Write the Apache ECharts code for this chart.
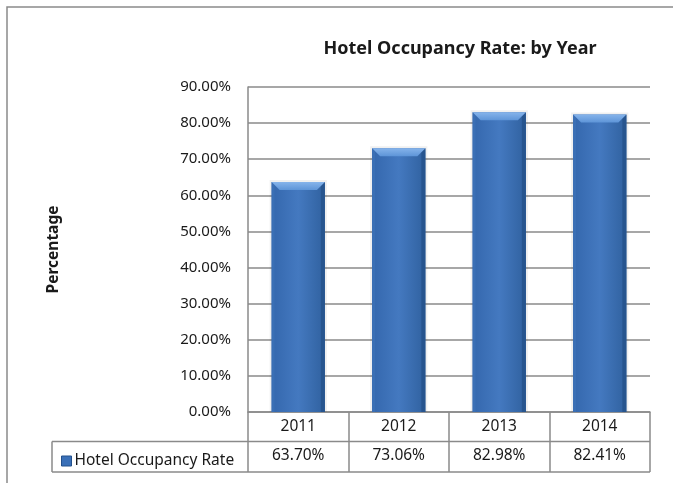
<!DOCTYPE html>
<html>
<head>
<meta charset="utf-8">
<script src="https://cdn.jsdelivr.net/npm/echarts@6/dist/echarts.min.js"></script>
<style>
html,body{margin:0;padding:0;background:#fff;}
#c{width:673px;height:483px;}
</style>
</head>
<body>
<div id="c"></div>
<script>
const titleText = 'Hotel Occupancy Rate: by Year';
const categories = ['2011', '2012', '2013', '2014'];
const seriesName = 'Hotel Occupancy Rate';
const values = [63.70, 73.06, 82.98, 82.41];
const yTicks = [0, 10, 20, 30, 40, 50, 60, 70, 80, 90];
const yAxisName = 'Percentage';

const FONT = '"Noto Sans", "Open Sans", sans-serif';
const GRID = {left: 248, right: 23, top: 87, bottom: 71};
const GRAY = '#8a8a8a';

const chart = echarts.init(document.getElementById('c'), null, {renderer: 'canvas'});

function bodyGrad() {
  return new echarts.graphic.LinearGradient(0, 0, 1, 0, [
    {offset: 0, color: '#3467ad'},
    {offset: 0.5, color: '#4479c0'},
    {offset: 1, color: '#30619f'}
  ]);
}

const option = {
  backgroundColor: '#fff',
  textStyle: {fontFamily: FONT},
  title: {
    text: titleText,
    left: 455, top: 35, textAlign: 'center',
    textStyle: {fontFamily: FONT, fontSize: 18, fontWeight: 'bold', color: '#1a1a1a'}
  },
  legend: {
    show: true,
    left: 56, top: 448,
    itemWidth: 10, itemHeight: 10, itemGap: 4,
    icon: 'rect',
    data: [{name: seriesName, itemStyle: {color: '#3a70b8', borderColor: '#23508c', borderWidth: 1}}],
    textStyle: {fontFamily: FONT, fontSize: 15.5, color: '#1a1a1a', padding: [0, 0, 0, -2]},
    selectedMode: false
  },
  grid: GRID,
  xAxis: [{
    type: 'category',
    data: categories,
    boundaryGap: true,
    axisLine: {show: true, lineStyle: {color: GRAY, width: 1.5}},
    axisTick: {show: true, length: 60, alignWithLabel: false, lineStyle: {color: GRAY, width: 1.5}},
    axisLabel: {margin: 7, fontSize: 15.5, color: '#1a1a1a', fontFamily: FONT},
    splitLine: {show: false}
  }, {
    type: 'category',
    data: categories,
    position: 'bottom',
    boundaryGap: true,
    axisLine: {show: false},
    axisTick: {show: false},
    axisLabel: {
      margin: 36, fontSize: 15.5, color: '#1a1a1a', fontFamily: FONT,
      formatter: function (v, i) { return values[i].toFixed(2) + '%'; }
    }
  }],
  yAxis: {
    type: 'value',
    min: yTicks[0], max: yTicks[yTicks.length - 1], interval: yTicks[1] - yTicks[0],
    name: yAxisName,
    nameLocation: 'middle', nameRotate: 90, nameGap: 186,
    nameTextStyle: {fontFamily: FONT, fontSize: 15.5, fontWeight: 'bold', color: '#1a1a1a'},
    axisLine: {show: true, lineStyle: {color: GRAY, width: 1.5}},
    axisTick: {show: false},
    axisLabel: {margin: 17, fontSize: 15, color: '#1a1a1a', fontFamily: FONT,
      formatter: function (v) { return v.toFixed(2) + '%'; }},
    splitLine: {show: true, lineStyle: {color: GRAY, width: 1.5}}
  },
  series: [{
    type: 'custom',
    name: seriesName,
    xAxisIndex: 0,
    itemStyle: {color: '#3a70b8'},
    data: values.map((v, i) => [i, v]),
    renderItem: function (params, api) {
      const top = api.coord([api.value(0), api.value(1)]);
      const base = api.coord([api.value(0), 0]);
      const bw = api.size([1, 0])[0] * 0.53;
      const l = top[0] - bw / 2, r = top[0] + bw / 2, t = top[1], b = base[1];
      const bev = 8;
      return {
        type: 'group',
        children: [
          {type: 'rect', shape: {x: l - 2, y: t - 2, width: bw + 4, height: b - t + 2},
           style: {fill: 'rgba(0,0,0,0.06)'}},
          {type: 'rect', shape: {x: l, y: t, width: bw, height: b - t},
           style: {fill: bodyGrad()}},
          {type: 'polygon', shape: {points: [[l, t], [l + 3, t + 3], [l + 3, b], [l, b]]},
           style: {fill: '#3a6fb5'}},
          {type: 'polygon', shape: {points: [[r, t], [r - 4, t + 4], [r - 4, b], [r, b]]},
           style: {fill: '#27558f'}},
          {type: 'polygon', shape: {points: [[l, t], [r, t], [r - bev, t + bev], [l + bev, t + bev]]},
           style: {fill: new echarts.graphic.LinearGradient(0, 0, 0, 1, [
             {offset: 0, color: '#86b4eb'}, {offset: 1, color: '#5e95d8'}])}}
        ]
      };
    }
  }],
  graphic: [
    {type: 'rect', shape: {x: 7, y: 7, width: 700, height: 520},
     style: {fill: 'none', stroke: GRAY, lineWidth: 1.5}, silent: true},
    {type: 'line', shape: {x1: 52, y1: 441.5, x2: 650, y2: 441.5},
     style: {stroke: GRAY, lineWidth: 1.5}},
    {type: 'line', shape: {x1: 52, y1: 472, x2: 650, y2: 472},
     style: {stroke: GRAY, lineWidth: 1.5}},
    {type: 'line', shape: {x1: 52, y1: 441.5, x2: 52, y2: 472},
     style: {stroke: GRAY, lineWidth: 1.5}}
  ]
};
chart.setOption(option);
</script>
</body>
</html>
